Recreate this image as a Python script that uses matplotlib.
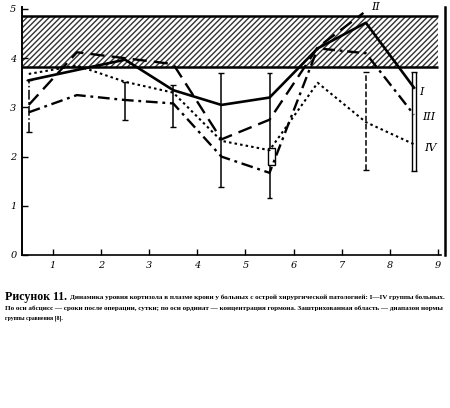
import matplotlib
matplotlib.use("Agg")
import matplotlib.pyplot as plt
from matplotlib.patches import Rectangle

# ---- data ----
x = [0.5, 1.5, 2.5, 3.5, 4.5, 5.5, 6.5, 7.5, 8.5]
series_I = [3.55, 3.76, 3.97, 3.35, 3.05, 3.2, 4.2, 4.72, 3.4]
x_II = [0.5, 1.5, 2.5, 3.5, 4.5, 5.5, 6.5, 7.45]
series_II = [3.05, 4.12, 4.0, 3.88, 2.35, 2.75, 4.22, 4.92]
series_III = [2.9, 3.25, 3.15, 3.08, 2.0, 1.67, 4.2, 4.1, 2.85]
series_IV = [3.68, 3.85, 3.52, 3.3, 2.32, 2.13, 3.5, 2.7, 2.25]

err_x = [0.5, 2.5, 3.5, 4.5, 5.5, 7.5, 8.5]
err_lo = [2.5, 2.75, 2.6, 1.38, 1.16, 1.73, 1.7]
err_hi = [3.55, 3.52, 3.45, 3.7, 3.7, 3.72, 3.72]
err_styles = ['-.', '-', '-', '-', '-', '--', '-']

norm_lo, norm_hi = 3.82, 4.86

x_ticks = [1, 2, 3, 4, 5, 6, 7, 8, 9]
x_ticklabels = ['1', '2', '3', '4', '5', '6', '7', '8', '9']
y_ticks = [0, 1, 2, 3, 4, 5]
y_ticklabels = ['0', '1', '2', '3', '4', '5']

caption_head = "Рисунок 11."
caption_lines = [
    "Динамика уровня кортизола в плазме крови у больных с острой хирургической патологией: I—IV группы больных.",
    "По оси абсцисс — сроки после операции, сутки; по оси ординат — концентрация гормона. Заштрихованная область — диапазон нормы",
    "группы сравнения [8].",
]

# ---- figure ----
fig = plt.figure(figsize=(4.5, 4.08), dpi=100)
ax = fig.add_axes([0.0489, 0.375, 0.93, 0.609])
ax.set_xlim(0.36, 9.05)
ax.set_ylim(0, 5.05)

# normal range band
band = Rectangle((0.36, norm_lo), 9.0 - 0.36, norm_hi - norm_lo,
                 facecolor='white', edgecolor='0.2', hatch='//////',
                 linewidth=0, zorder=1)
ax.add_patch(band)
ax.hlines([norm_lo, norm_hi], 0.36, 9.0, colors='black', linewidth=1.8, zorder=2)

# error bars
cap = 0.06
for xe, lo, hi, st in zip(err_x, err_lo, err_hi, err_styles):
    if xe == 8.5:
        for dx in (-0.035, 0.035):
            ax.vlines(xe + dx, lo, hi, colors='black', linewidth=1.0, zorder=3)
    else:
        ax.vlines(xe, lo, hi, colors='black', linewidth=1.1, linestyles=st, zorder=3)
    ax.hlines([lo, hi], xe - cap, xe + cap, colors='black', linewidth=1.0, zorder=3)

ax.add_patch(Rectangle((5.46, 1.83), 0.15, 0.34, facecolor='white',
                       edgecolor='black', linewidth=1.0, zorder=4))

# series
ax.plot(x, series_I, color='black', linewidth=1.9, linestyle='-', zorder=5)
ax.plot(x_II, series_II, color='black', linewidth=1.7, linestyle=(0, (6, 3)), zorder=5)
ax.plot(x, series_III, color='black', linewidth=1.7, linestyle=(0, (5, 2, 1.2, 2)), zorder=5)
ax.plot(x, series_IV, color='black', linewidth=1.5, linestyle=(0, (1.2, 1.5)), zorder=5)

lab = dict(fontsize=8, fontstyle='italic', family='DejaVu Serif', color='black',
           clip_on=False, va='center', ha='left')
ax.text(8.6, 3.31, 'I', **lab)
ax.text(7.62, 5.04, 'II', **lab)
ax.text(8.66, 2.8, 'III', **lab)
ax.text(8.72, 2.17, 'IV', **lab)

# right border line of the scan
ax.plot([9.15, 9.15], [0, 5.05], color='black', linewidth=1.8, clip_on=False)

# axes styling
for s in ('top', 'right'):
    ax.spines[s].set_visible(False)
ax.spines['left'].set_linewidth(1.4)
ax.spines['bottom'].set_linewidth(1.2)
ax.set_xticks(x_ticks)
ax.set_xticklabels(x_ticklabels, fontstyle='italic', family='DejaVu Serif', fontsize=7)
ax.set_yticks(y_ticks)
ax.set_yticklabels(y_ticklabels, fontstyle='italic', family='DejaVu Serif', fontsize=7)
ax.tick_params(axis='both', direction='in', length=4, width=1.0, pad=4)
ax.set_facecolor('white')

# caption (fonts scaled so each line spans the same width as in the reference)
renderer = fig.canvas.get_renderer()


def fit(t, target, fs):
    for _ in range(3):
        w = t.get_window_extent(renderer).width
        fs = fs * target / w
        t.set_fontsize(fs)
    return fs


head = fig.text(5 / 450, 1 - 297 / 408, caption_head, fontsize=10, fontweight='bold',
                family='Liberation Serif', va='center', ha='left')
fit(head, 62, 10)
targets = [(70, 297, 444), (5, 308, 444), (5, 318, 63)]
for line, (x0, y0, x1) in zip(caption_lines, targets):
    t = fig.text(x0 / 450, 1 - y0 / 408, line, fontsize=4, fontweight='bold',
                 family='Liberation Serif', va='center', ha='left')
    fit(t, x1 - x0, 4)

fig.savefig('out.png', dpi=100, facecolor='white')
